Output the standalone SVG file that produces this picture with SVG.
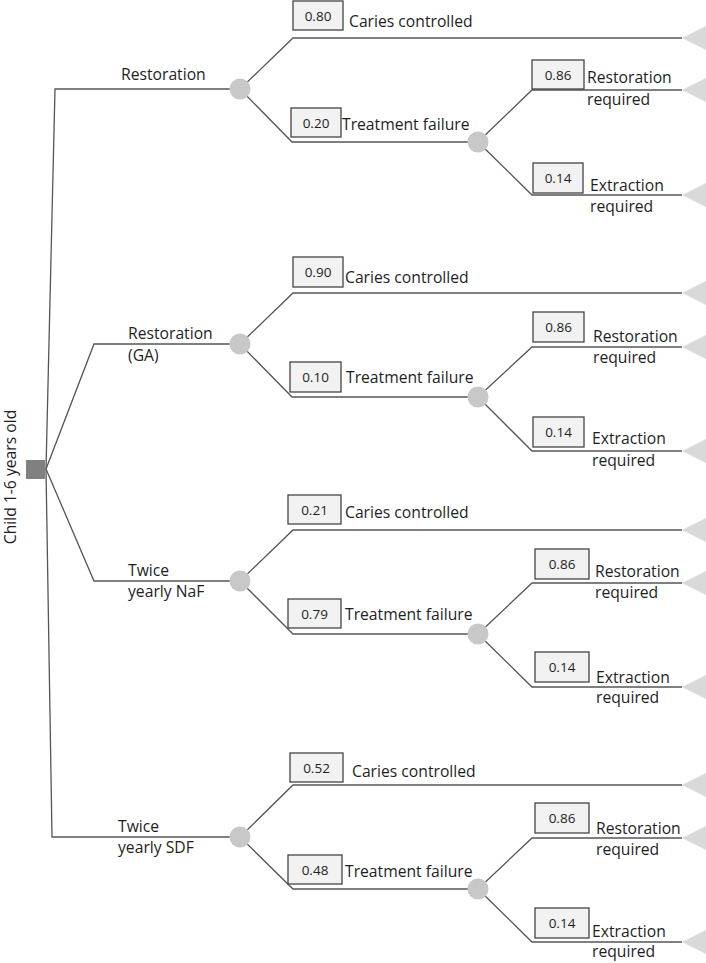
<svg xmlns="http://www.w3.org/2000/svg" width="706" height="963" viewBox="0 0 706 963">
<defs>
<style>
.ln{fill:none;stroke:#555;stroke-width:1.3}
.chance{fill:#c8c8c8}
.term{fill:#d9d9d9}
.root{fill:#808080}
.pb{fill:#f2f2f2;stroke:#444;stroke-width:1.3}
.t{font-family:"Open Sans","Noto Sans",sans-serif;font-size:15.7px;fill:#1e1e1e}
.p{font-family:"Open Sans","Noto Sans",sans-serif;font-size:13.5px;fill:#1e1e1e;text-anchor:middle}
</style>
</defs>
<rect width="706" height="963" fill="#fff"/>
<g id="connectors">
<path class="ln" d="M46,469 L55,89 L240,89"/>
<path class="ln" d="M240,89 L293,38 L682,38"/>
<path class="ln" d="M240,89 L292,142 L478,142"/>
<path class="ln" d="M478,142 L532,90 L682,90"/>
<path class="ln" d="M478,142 L532,195 L682,195"/>
<path class="ln" d="M46,469 L94,344 L240,344"/>
<path class="ln" d="M240,344 L293,293 L682,293"/>
<path class="ln" d="M240,344 L292,397 L478,397"/>
<path class="ln" d="M478,397 L532,347 L682,347"/>
<path class="ln" d="M478,397 L532,451 L682,451"/>
<path class="ln" d="M46,469 L94,581 L240,581"/>
<path class="ln" d="M240,581 L293,530 L682,530"/>
<path class="ln" d="M240,581 L293,634 L478,634"/>
<path class="ln" d="M478,634 L532,583 L682,583"/>
<path class="ln" d="M478,634 L532,687 L682,687"/>
<path class="ln" d="M46,469 L52,837 L240,837"/>
<path class="ln" d="M240,837 L293,785 L682,785"/>
<path class="ln" d="M240,837 L293,889 L478,889"/>
<path class="ln" d="M478,889 L532,838 L682,838"/>
<path class="ln" d="M478,889 L532,942 L682,942"/>
</g>
<g id="root">
<rect class="root" x="26" y="460" width="19" height="19"/>
<text class="t" transform="translate(15.5,477) rotate(-90)" text-anchor="middle">Child 1-6 years old</text>
</g>
<g id="branch-labels">
<text class="t" x="121" y="80">Restoration</text>
<text class="t" x="128" y="339">Restoration</text>
<text class="t" x="128" y="361">(GA)</text>
<text class="t" x="128" y="576">Twice</text>
<text class="t" x="128" y="597">yearly NaF</text>
<text class="t" x="118" y="832">Twice</text>
<text class="t" x="118" y="853">yearly SDF</text>
</g>
<g id="chance-nodes">
<circle class="chance" cx="240" cy="89" r="10.5"/>
<circle class="chance" cx="478" cy="142" r="10.5"/>
<circle class="chance" cx="240" cy="344" r="10.5"/>
<circle class="chance" cx="478" cy="397" r="10.5"/>
<circle class="chance" cx="240" cy="581" r="10.5"/>
<circle class="chance" cx="478" cy="634" r="10.5"/>
<circle class="chance" cx="240" cy="837" r="10.5"/>
<circle class="chance" cx="478" cy="889" r="10.5"/>
</g>
<g id="terminal-nodes">
<polygon class="term" points="682,38 708,25 708,51"/>
<polygon class="term" points="682,90 708,77 708,103"/>
<polygon class="term" points="682,195 708,182 708,208"/>
<polygon class="term" points="682,293 708,280 708,306"/>
<polygon class="term" points="682,347 708,334 708,360"/>
<polygon class="term" points="682,451 708,438 708,464"/>
<polygon class="term" points="682,530 708,517 708,543"/>
<polygon class="term" points="682,583 708,570 708,596"/>
<polygon class="term" points="682,687 708,674 708,700"/>
<polygon class="term" points="682,785 708,772 708,798"/>
<polygon class="term" points="682,838 708,825 708,851"/>
<polygon class="term" points="682,942 708,929 708,955"/>
</g>
<g id="s1-outcomes">
<rect class="pb" x="293" y="1" width="50" height="29"/><text class="p" x="318" y="20.5">0.80</text>
<text class="t" x="349" y="27">Caries controlled</text>
<rect class="pb" x="291" y="108" width="50" height="29"/><text class="p" x="316" y="127.5">0.20</text>
<text class="t" x="342" y="130">Treatment failure</text>
<rect class="pb" x="532" y="60" width="52" height="29"/><text class="p" x="558" y="79.5">0.86</text>
<text class="t" x="587" y="83">Restoration</text><text class="t" x="587" y="105">required</text>
<rect class="pb" x="533" y="163" width="50" height="30"/><text class="p" x="558" y="183">0.14</text>
<text class="t" x="590" y="191">Extraction</text><text class="t" x="590" y="212">required</text>
</g>
<g id="s2-outcomes">
<rect class="pb" x="293" y="257" width="50" height="30"/><text class="p" x="318" y="277">0.90</text>
<text class="t" x="345" y="283">Caries controlled</text>
<rect class="pb" x="290" y="362" width="51" height="30"/><text class="p" x="315.5" y="382">0.10</text>
<text class="t" x="346" y="383">Treatment failure</text>
<rect class="pb" x="533" y="312" width="51" height="30"/><text class="p" x="558.5" y="332">0.86</text>
<text class="t" x="593" y="342">Restoration</text><text class="t" x="593" y="363">required</text>
<rect class="pb" x="533" y="417" width="51" height="30"/><text class="p" x="558.5" y="437">0.14</text>
<text class="t" x="592" y="444">Extraction</text><text class="t" x="592" y="466">required</text>
</g>
<g id="s3-outcomes">
<rect class="pb" x="288" y="495" width="53" height="29"/><text class="p" x="314.5" y="514.5">0.21</text>
<text class="t" x="345" y="518">Caries controlled</text>
<rect class="pb" x="288" y="599" width="53" height="29"/><text class="p" x="314.5" y="618.5">0.79</text>
<text class="t" x="345" y="620">Treatment failure</text>
<rect class="pb" x="535" y="549" width="54" height="30"/><text class="p" x="562" y="569">0.86</text>
<text class="t" x="595" y="577">Restoration</text><text class="t" x="595" y="598">required</text>
<rect class="pb" x="535" y="652" width="54" height="30"/><text class="p" x="562" y="672">0.14</text>
<text class="t" x="596" y="683">Extraction</text><text class="t" x="596" y="703">required</text>
</g>
<g id="s4-outcomes">
<rect class="pb" x="290" y="753" width="53" height="29"/><text class="p" x="316.5" y="772.5">0.52</text>
<text class="t" x="352" y="777">Caries controlled</text>
<rect class="pb" x="288" y="855" width="54" height="29"/><text class="p" x="315" y="874.5">0.48</text>
<text class="t" x="345" y="877">Treatment failure</text>
<rect class="pb" x="535" y="803" width="54" height="30"/><text class="p" x="562" y="823">0.86</text>
<text class="t" x="596" y="834">Restoration</text><text class="t" x="596" y="855">required</text>
<rect class="pb" x="535" y="908" width="54" height="30"/><text class="p" x="562" y="928">0.14</text>
<text class="t" x="592" y="937">Extraction</text><text class="t" x="592" y="957">required</text>
</g>
</svg>
